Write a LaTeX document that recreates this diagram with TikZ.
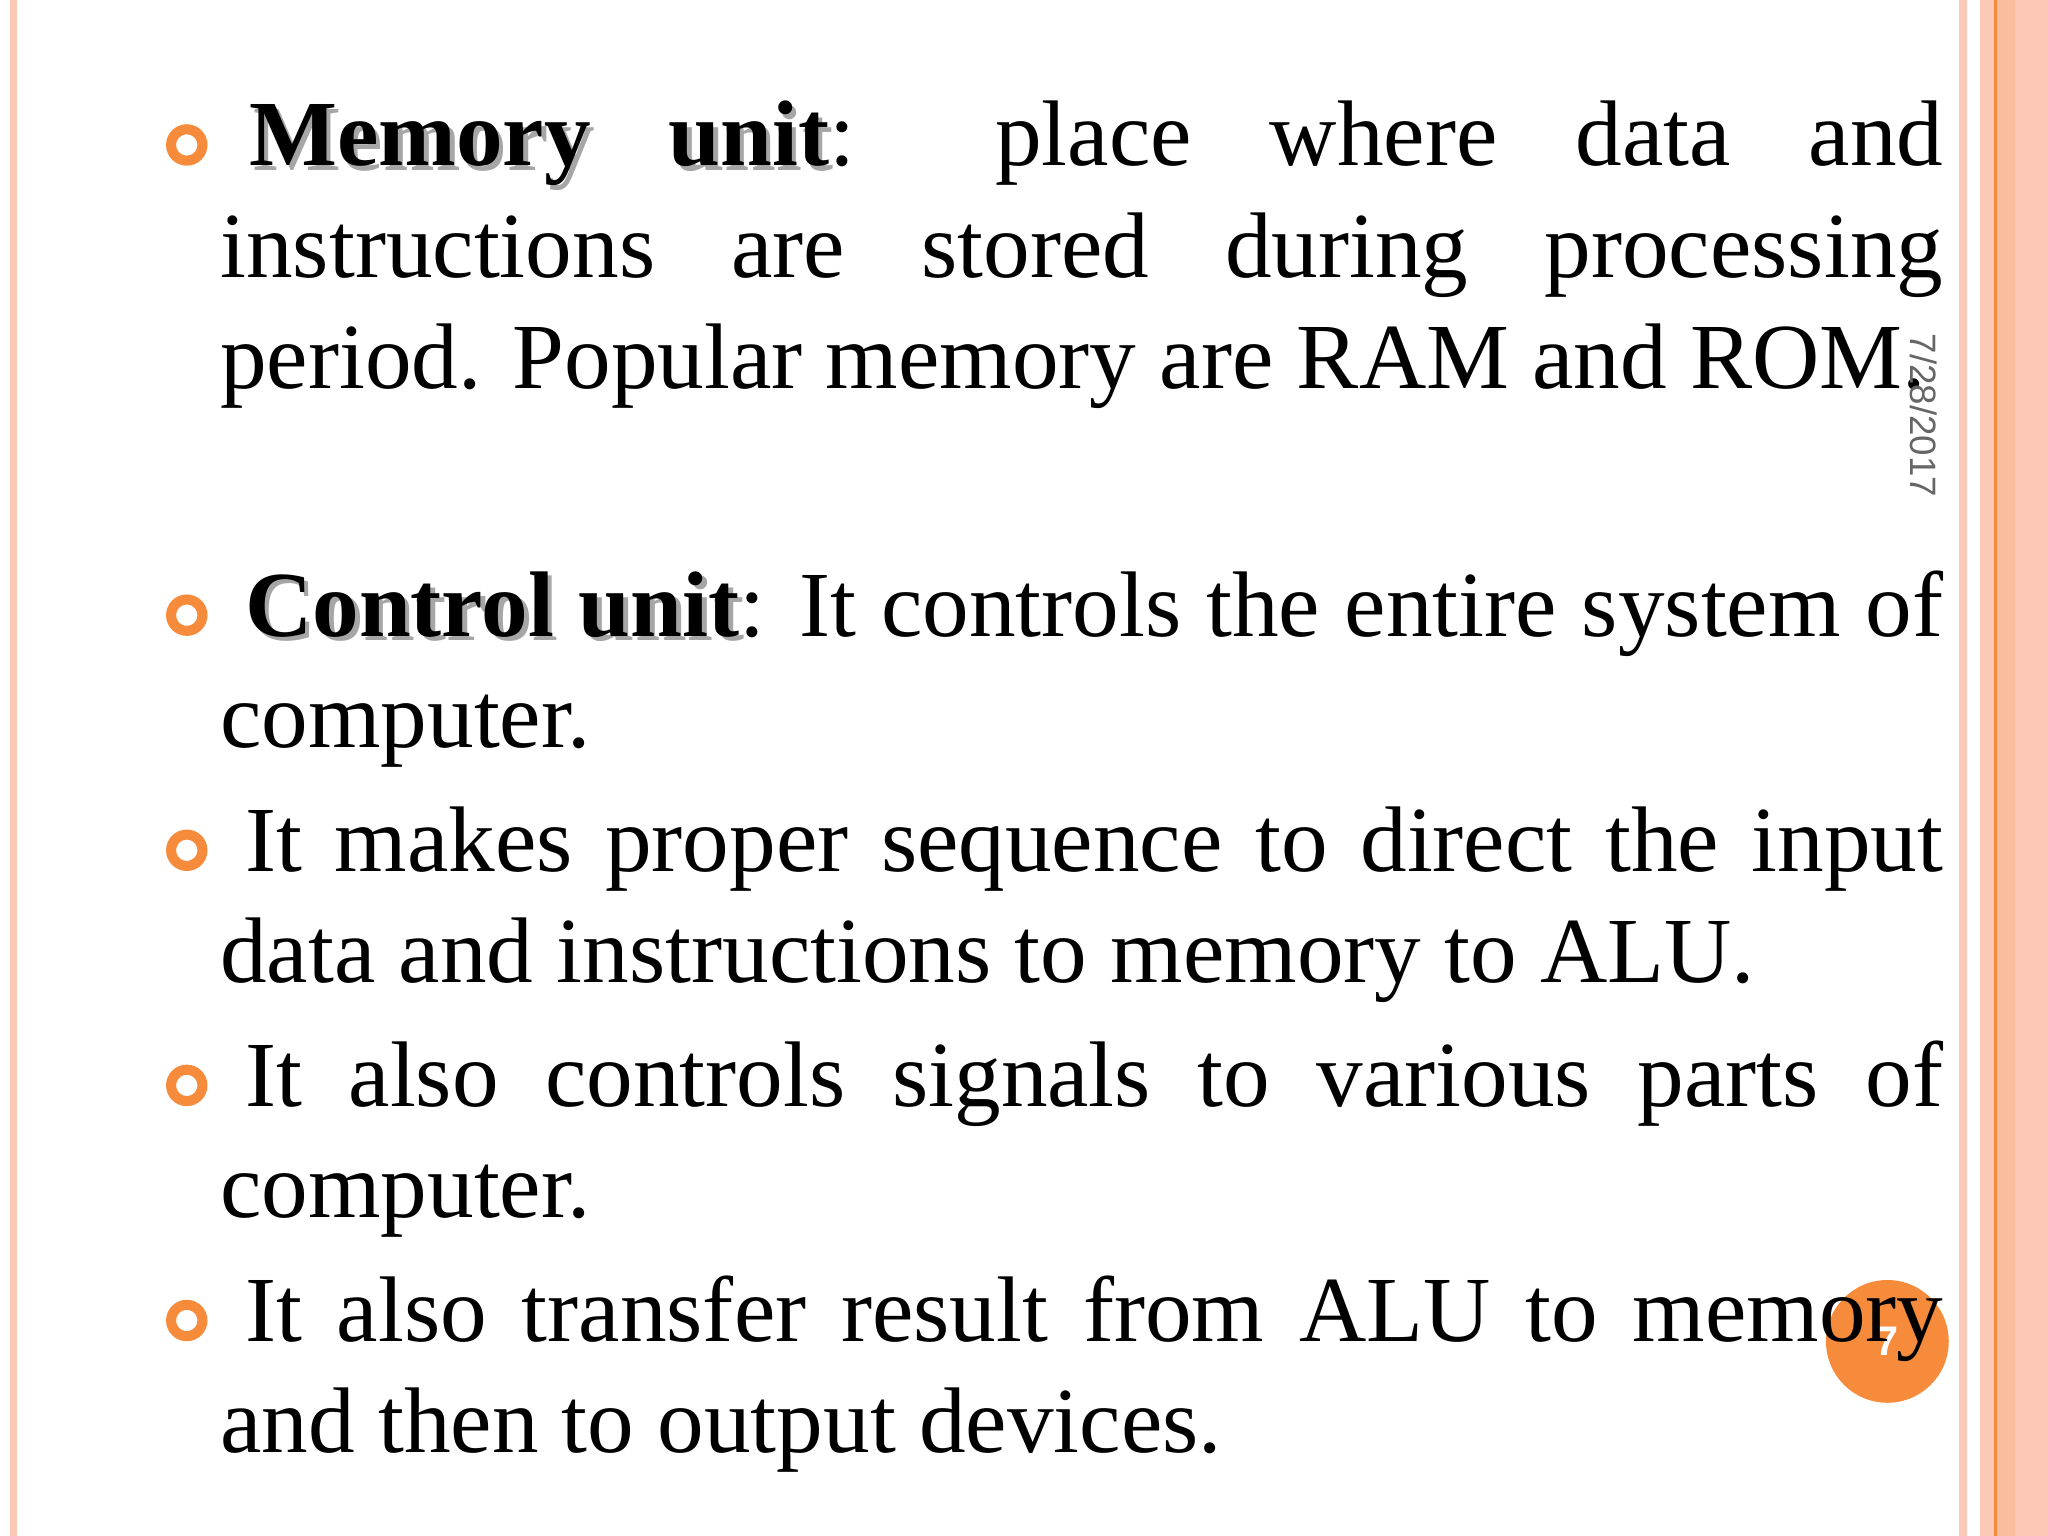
\documentclass[tikz,border=0pt]{standalone}
\usepackage{fontspec}
\setmainfont{Liberation Serif}
\newfontfamily\datefont{Liberation Sans}
\definecolor{slidepink}{RGB}{251,201,181}
\definecolor{slideorange}{RGB}{247,139,60}
\hyphenpenalty=10000
\exhyphenpenalty=10000
\emergencystretch=2cm
\newcommand\shbf[1]{\rlap{\hspace{1pt}\raisebox{-1pt}{\color{black!35}\textbf{#1}}}\textbf{#1}}
\begin{document}
\begin{tikzpicture}[x=1cm,y=-1cm,
  para/.style={anchor=base west, text width=13.19cm, align=justify, inner sep=0pt,
    font=\fontsize{20.3}{24.3}\selectfont},
  bullet/.style={draw=slideorange, line width=2.2pt, circle, inner sep=0pt, minimum size=0.24cm}]
\useasboundingbox (0,0) rectangle (15.68,11.76);
% borders
\fill[slidepink] (0.08,0) rectangle (0.13,11.76);
\fill[slidepink] (15.00,0) rectangle (15.06,11.76);
\fill[slidepink] (15.16,0) rectangle (15.68,11.76);
\fill[slidepink!80!slideorange] (15.29,0) rectangle (15.43,11.76);
\draw[slideorange, line width=0.6pt] (15.28,0) -- (15.28,11.76);
% bullets
\foreach \n/\y in {b1/1.11, b2/4.71, b3/6.51, b4/8.31, b5/10.11}
  \node[bullet] (\n) at (1.43,\y) {};
% paragraphs
\node[para] (memory) at (1.68,1.27) {\hspace*{0.22cm}\shbf{Memory} \shbf{unit}: place where data and\linebreak instructions are stored during processing\linebreak period. Popular memory are RAM and ROM.};
\node[para] (control) at (1.68,4.87) {\hspace*{0.19cm}\shbf{Control} \shbf{unit}: It controls the entire system of\linebreak computer.};
\node[para] (sequence) at (1.68,6.67) {\hspace*{0.19cm}It makes proper sequence to direct the input\linebreak data and instructions to memory to ALU.};
\node[para] (signals) at (1.68,8.47) {\hspace*{0.19cm}It also controls signals to various parts of\linebreak computer.};
% page number
\node[circle, fill=slideorange, minimum size=0.94cm, inner sep=0pt, text=white,
  font=\datefont\bfseries\small] (page) at (14.45,10.27) {7};
\node[para] (transfer) at (1.68,10.27) {\hspace*{0.19cm}It also transfer result from ALU to memory\linebreak and then to output devices.};
\node[rotate=-90, text=black!60, font=\datefont\fontsize{8}{10}\selectfont] (date) at (14.73,3.18) {7/28/2017};
\end{tikzpicture}
\end{document}
